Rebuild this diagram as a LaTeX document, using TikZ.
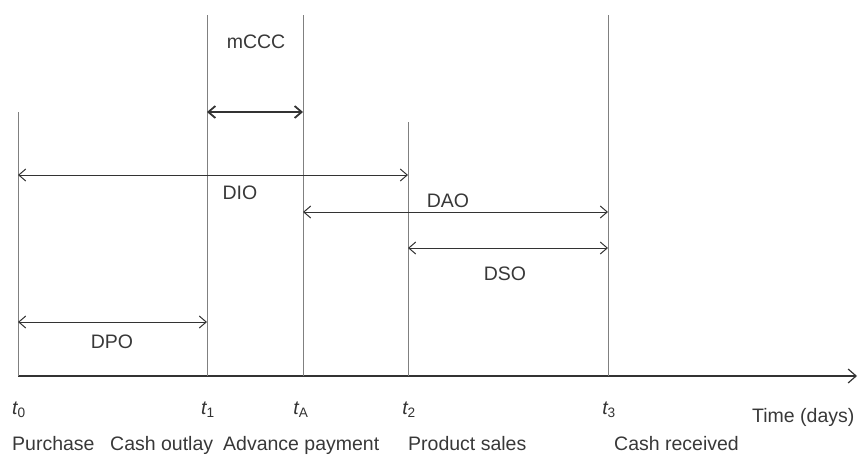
\documentclass[tikz,border=0pt]{standalone}
\usepackage{fontspec}
\setmainfont{Liberation Sans}
\usetikzlibrary{arrows.meta}
\begin{document}
\begin{tikzpicture}[x=1pt,y=-1pt,
  tick/.style={draw=black!50,line width=1pt},
  span/.style={draw=black!80,line width=1pt,{Straight Barb[length=7pt,width=12pt]}-{Straight Barb[length=7pt,width=12pt]}},
  lbl/.style={font=\fontsize{19.5}{22}\selectfont,text=black!78,inner sep=0pt,anchor=base},
  tlab/.style={font=\fontsize{19.5}{22}\selectfont\itshape,text=black!80,inner sep=0pt,anchor=base}]
\useasboundingbox (0,0) rectangle (859,456);
% time axis
\coordinate (o) at (18,376);
\coordinate (end) at (857,376);
\draw[draw=black!80,line width=1.2pt,-{Straight Barb[length=8pt,width=14pt]}] (o) -- (end);
% event markers
\coordinate (a0) at (18,112);  \coordinate (b0) at (18,376);
\coordinate (a1) at (207,15);  \coordinate (b1) at (207,376);
\coordinate (aA) at (303,15);  \coordinate (bA) at (303,376);
\coordinate (a2) at (408,122); \coordinate (b2) at (408,376);
\coordinate (a3) at (608,15);  \coordinate (b3) at (608,376);
\draw[tick] (a0) -- (b0);
\draw[tick] (a1) -- (b1);
\draw[tick] (aA) -- (bA);
\draw[tick] (a2) -- (b2);
\draw[tick] (a3) -- (b3);
% spans between events
\coordinate (p0) at (18,322);  \coordinate (p1) at (207,322);
\coordinate (i0) at (18,175);  \coordinate (i2) at (408,175);
\coordinate (m1) at (207,112); \coordinate (mA) at (303,112);
\coordinate (dA) at (303,212); \coordinate (d3) at (608,212);
\coordinate (s2) at (408,248); \coordinate (s3) at (608,248);
\draw[span] (p0) -- (p1);
\draw[span] (i0) -- (i2);
\draw[span,line width=1.8pt] (m1) -- (mA);
\draw[span] (dA) -- (d3);
\draw[span] (s2) -- (s3);
\node[lbl] (dpo) at (112,348) {DPO};
\node[lbl] (dio) at (240,199) {DIO};
\node[lbl] (mccc) at (256,48) {mCCC};
\node[lbl] (dao) at (448,207) {DAO};
\node[lbl] (dso) at (505,280) {DSO};
% time points
\node[tlab] (t0) at (19,414) {t\textsubscript{\upshape 0}};
\node[tlab] (t1) at (208,414) {t\textsubscript{\upshape 1}};
\node[tlab] (tA) at (301,414) {t\textsubscript{\upshape A}};
\node[tlab] (t2) at (409,414) {t\textsubscript{\upshape 2}};
\node[tlab] (t3) at (609,414) {t\textsubscript{\upshape 3}};
\node[lbl,anchor=base west] (time) at (752,422) {Time (days)};
% events
\node[lbl,anchor=base west] (e0) at (12,450) {Purchase};
\node[lbl,anchor=base west] (e1) at (110,450) {Cash outlay};
\node[lbl,anchor=base west] (e2) at (223,450) {Advance payment};
\node[lbl,anchor=base west] (e3) at (408,450) {Product sales};
\node[lbl,anchor=base west] (e4) at (614,450) {Cash received};
\end{tikzpicture}
\end{document}
